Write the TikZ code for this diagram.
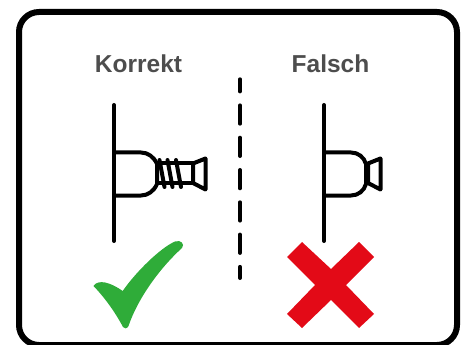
\documentclass[tikz,border=0pt]{standalone}
\usepackage{fontspec}
\setmainfont{Liberation Sans}
\definecolor{labelgray}{HTML}{4D4D4D}
\definecolor{okgreen}{HTML}{2FAC39}
\definecolor{badred}{HTML}{E30A17}
\tikzset{
	line/.style={line width=4pt,line cap=round,line join=round},
	heading/.style={text=labelgray,font=\bfseries\fontsize{24.5}{25}\selectfont,inner sep=0pt}
}
\begin{document}
\begin{tikzpicture}[x=1pt,y=-1pt]
	    \useasboundingbox (0,0) rectangle (464,345);
	    \draw[line width=6pt,rounded corners=20pt] (19,12) rectangle (457,345);
	    
	    \node[heading] (korrekt) at (138.5,63.5) {Korrekt};
	    \node[heading] (falsch) at (330.5,63.5) {Falsch};
	    
	    \draw[line,dash pattern=on 18.3pt off 14pt,dash phase=6.2pt] (240,79.3) -- (240,278);
	    
	    % left
	    \draw[line] (114,105) -- (114,241);
	    \draw[line] (114,152.5) -- (141,152.5) .. controls (148,152.5) and (154,157) .. (157,164) -- (157,184) .. controls (154,191) and (148,195.5) .. (141,195.5) -- (114,195.5);
	    \draw[line] (157,163.5) -- (193,163.5) (157,183) -- (193,183);
	    \draw[line] (193,163.5) -- (205.5,158.5) -- (205.5,189.5) -- (193,183) -- cycle;
	    \foreach \xa in {159.5,167.5,176}
	        \draw[line] (\xa,160) -- (\xa+5,187);
	    
	    % right
	    \draw[line] (324,105) -- (324,241);
	    \draw[line] (324,152.5) -- (351,152.5) .. controls (358,152.5) and (364,157) .. (366,164) -- (366,184) .. controls (364,191) and (358,195.5) .. (351,195.5) -- (324,195.5);
	    \draw[line] (368,163.5) -- (380.5,158.5) -- (380.5,189.5) -- (368,183) -- cycle;
	    
	    \fill[okgreen] (93.5,286) .. controls (98,279) and (110,282) .. (122.7,291) .. controls (135,273) and (160,248) .. (175,241.5) .. controls (181,239.5) and (185,244) .. (182,248) .. controls (160,268) and (138,298) .. (128.5,326) .. controls (127,329) and (124,329) .. (123,327) .. controls (115,312) and (105,298) .. (93.5,286) -- cycle;
	    \fill[badred] (287,257) -- (302,242) -- (331,269) -- (359,242) -- (374,257) -- (346,285) -- (374,314) -- (359,328) -- (331,300) -- (302,328) -- (287,314) -- (315,285) -- cycle;
\end{tikzpicture}
\end{document}
